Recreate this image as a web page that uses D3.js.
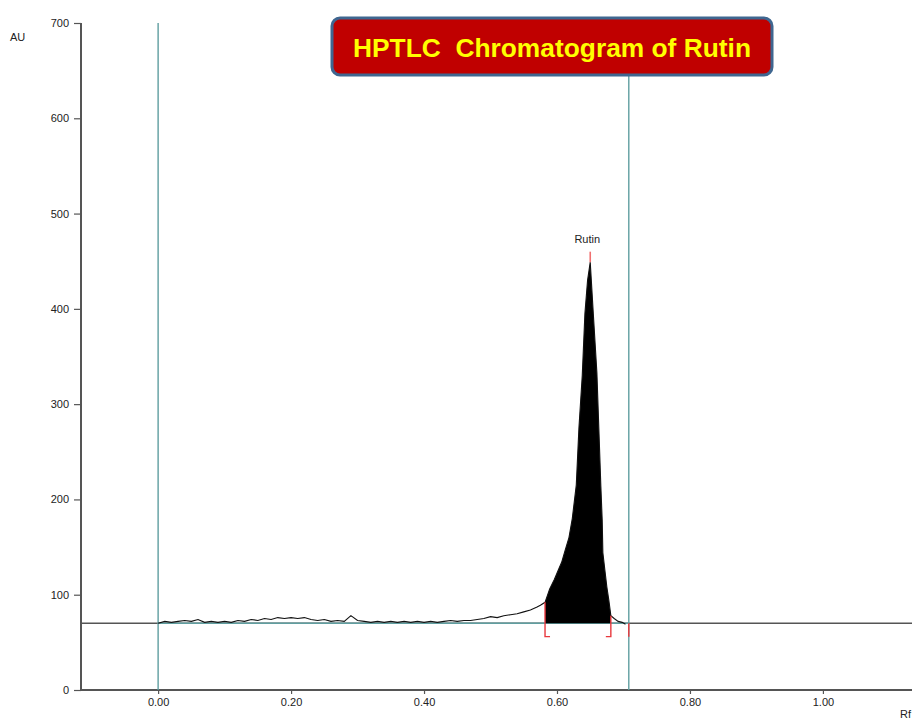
<!DOCTYPE html>
<html>
<head>
<meta charset="utf-8">
<script src="https://cdn.jsdelivr.net/npm/d3@7"></script>
<style>
  body { margin: 0; background: #fff; }
  svg { display: block; font-family: "Liberation Sans", Arial, sans-serif; }
</style>
</head>
<body>
<div id="chart"></div>
<script>
// ---- data ----
const yTicks = [0, 100, 200, 300, 400, 500, 600, 700];
const xTicks = [0.0, 0.2, 0.4, 0.6, 0.8, 1.0];

// scan trace: Rf positions and absorbance (AU)
const traceRf = [
  0.00, 0.01, 0.02, 0.03, 0.04, 0.05, 0.06, 0.07, 0.08, 0.09,
  0.10, 0.11, 0.12, 0.13, 0.14, 0.15, 0.16, 0.17, 0.18, 0.19,
  0.20, 0.21, 0.22, 0.23, 0.24, 0.25, 0.26, 0.27, 0.28, 0.29,
  0.30, 0.31, 0.32, 0.33, 0.34, 0.35, 0.36, 0.37, 0.38, 0.39,
  0.40, 0.41, 0.42, 0.43, 0.44, 0.45, 0.46, 0.47, 0.48, 0.49,
  0.50, 0.51, 0.52, 0.53, 0.54, 0.55, 0.56, 0.57, 0.575, 0.582,
  0.589, 0.596, 0.602, 0.607, 0.612, 0.618, 0.623, 0.629, 0.633, 0.638, 0.642, 0.646, 0.650,
  0.654, 0.660, 0.663, 0.666, 0.668, 0.669, 0.672, 0.675, 0.678, 0.681,
  0.686, 0.692, 0.698, 0.703
];
const traceAU = [
  70, 72, 71, 72, 73, 72, 74, 71, 72, 71,
  72, 71, 73, 72, 74, 73, 75, 74, 76, 75,
  76, 75, 76, 74, 73, 74, 72, 73, 72, 78,
  73, 72, 71, 72, 71, 72, 71, 72, 71, 72,
  71, 72, 71, 72, 73, 72, 73, 73, 74, 75,
  77, 76, 78, 79, 80, 82, 84, 87, 89, 92,
  106, 116, 126, 134, 146, 160, 180, 215, 275, 330, 395, 430, 449,
  402, 333, 273, 213, 178, 144, 126, 108, 94, 78,
  75, 72, 71, 69
];

const baselineAU = 70;
const peakStart = 0.582, peakEnd = 0.681, peakMax = 0.650;
const peakLabel = "Rutin";
const scanStart = 0.0, scanEnd = 0.708;
const title = "HPTLC\u00a0\u00a0Chromatogram of Rutin";

// ---- layout ----
const width = 912, height = 721;
const svg = d3.select("#chart").append("svg")
  .attr("width", width).attr("height", height);

const x = d3.scaleLinear().domain([-0.116, 1.134]).range([81, 912]);
const y = d3.scaleLinear().domain([0, 700]).range([690, 23]);

const teal = "#5f9ea0";
const axisCol = "#555";

// axes
const yAxis = svg.append("g").attr("transform", `translate(${x.range()[0]},0)`)
  .call(d3.axisLeft(y).tickValues(yTicks).tickSize(7).tickPadding(5).tickFormat(d3.format("d")));
const xAxis = svg.append("g").attr("transform", `translate(0,${y(0)})`)
  .call(d3.axisBottom(x).tickValues(xTicks).tickSize(4).tickPadding(4).tickFormat(d3.format(".2f")));
[yAxis, xAxis].forEach(g => {
  g.select(".domain").attr("stroke", axisCol).attr("stroke-width", 2);
  g.selectAll(".tick line").attr("stroke", axisCol).attr("stroke-width", 1.2);
  g.selectAll(".tick text").attr("fill", "#222").style("font-size", "11px");
});
yAxis.select(".domain").attr("d", `M0,${y(700)}V${y(0)}`);
xAxis.select(".domain").attr("d", `M${x.range()[0]},0H${x.range()[1]}`);

svg.append("text").attr("x", 10).attr("y", 41).text("AU")
  .style("font-size", "11px").attr("fill", "#222");
svg.append("text").attr("x", 911).attr("y", 718).attr("text-anchor", "end").text("Rf")
  .style("font-size", "11px").attr("fill", "#222");

// baseline: gray outside the scan window, teal inside
svg.append("line")
  .attr("x1", x.range()[0]).attr("x2", x.range()[1])
  .attr("y1", y(baselineAU)).attr("y2", y(baselineAU))
  .attr("stroke", axisCol).attr("stroke-width", 1.6);
svg.append("line")
  .attr("x1", x(scanStart)).attr("x2", x(scanEnd))
  .attr("y1", y(baselineAU)).attr("y2", y(baselineAU))
  .attr("stroke", teal).attr("stroke-width", 1.4);

// scan window verticals
[scanStart, scanEnd].forEach(v => {
  svg.append("line")
    .attr("x1", x(v)).attr("x2", x(v))
    .attr("y1", y(700)).attr("y2", y(0))
    .attr("stroke", teal).attr("stroke-width", 1.4);
});

// filled peak area
const pts = traceRf.map((r, i) => [r, traceAU[i]]);
const peakPts = pts.filter(p => p[0] >= peakStart && p[0] <= peakEnd);
svg.append("path")
  .datum(peakPts)
  .attr("d", d3.area().x(d => x(d[0])).y0(y(baselineAU)).y1(d => y(d[1])))
  .attr("fill", "#000");

// trace line
svg.append("path")
  .datum(pts)
  .attr("d", d3.line().x(d => x(d[0])).y(d => y(d[1])))
  .attr("fill", "none").attr("stroke", "#111").attr("stroke-width", 1.1);

// red integration brackets
const red = "#e8383d";
const brackBottom = 56;
const auAt = r => traceAU[traceRf.indexOf(r)];
[[peakStart, 1], [peakEnd, -1]].forEach(([r, dir]) => {
  const px = x(r);
  svg.append("path")
    .attr("d", `M${px},${y(auAt(r))}V${y(brackBottom)}h${dir * 5}`)
    .attr("fill", "none").attr("stroke", red).attr("stroke-width", 1.4);
});
svg.append("line")
  .attr("x1", x(scanEnd)).attr("x2", x(scanEnd))
  .attr("y1", y(baselineAU)).attr("y2", y(brackBottom))
  .attr("stroke", red).attr("stroke-width", 1.4);
svg.append("line")
  .attr("x1", x(peakMax)).attr("x2", x(peakMax))
  .attr("y1", y(auAt(peakMax))).attr("y2", y(auAt(peakMax) + 11))
  .attr("stroke", "#f07070").attr("stroke-width", 1.6);

svg.append("text")
  .attr("x", x(peakMax) - 3).attr("y", y(auAt(peakMax) + 20))
  .attr("text-anchor", "middle").text(peakLabel)
  .style("font-size", "11px").attr("fill", "#222");

// title box
svg.append("rect")
  .attr("x", 332).attr("y", 18).attr("width", 440).attr("height", 57)
  .attr("rx", 8).attr("fill", "#c00000")
  .attr("stroke", "#3f6690").attr("stroke-width", 3);
svg.append("text")
  .attr("x", 552).attr("y", 57)
  .attr("text-anchor", "middle").text(title)
  .attr("textLength", 398).attr("lengthAdjust", "spacingAndGlyphs")
  .style("font-size", "26px").style("font-weight", "bold")
  .attr("fill", "#ffff00");
</script>
</body>
</html>
